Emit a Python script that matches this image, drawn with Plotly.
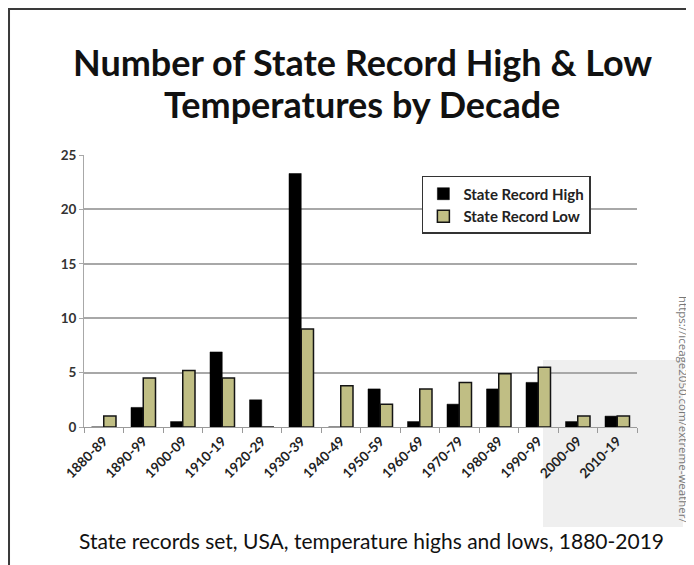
import plotly.graph_objects as go

decades = ['1880-89', '1890-99', '1900-09', '1910-19', '1920-29', '1930-39', '1940-49',
           '1950-59', '1960-69', '1970-79', '1980-89', '1990-99', '2000-09', '2010-19']
record_high = [0, 1.8, 0.5, 6.9, 2.5, 23.3, 0, 3.5, 0.5, 2.1, 3.5, 4.1, 0.5, 1]
record_low = [1, 4.5, 5.2, 4.5, 0, 9, 3.8, 2.1, 3.5, 4.1, 4.9, 5.5, 1, 1]

title_lines = ['Number of State Record High & Low', 'Temperatures by Decade']
caption = 'State records set, USA, temperature highs and lows, 1880-2019'
source = 'https://iceage2050.com/extreme-weather/'

fig = go.Figure()
fig.add_trace(go.Bar(x=decades, y=record_high, name='State Record High',
                     marker=dict(color='#000000', line=dict(color='#000000', width=0.5))))
fig.add_trace(go.Bar(x=decades, y=record_low, name='State Record Low',
                     marker=dict(color='#c0be84', line=dict(color='#141414', width=1.5))))

# grey patch behind the last decades and the page frame
fig.add_shape(type='rect', xref='paper', yref='paper', x0=0.830, x1=1.083, y0=-0.368, y1=0.246,
              fillcolor='#efefef', line=dict(width=0), layer='below')
fig.add_shape(type='rect', xref='paper', yref='paper', x0=-0.1356, x1=1.094, y0=-0.6, y1=1.537,
              fillcolor='rgba(0,0,0,0)', line=dict(color='#3a3a3a', width=2))

# two-line title, placed line by line to keep the tight spacing
for txt, ypos in zip(title_lines, [1.342, 1.1875]):
    fig.add_annotation(text='<b>' + txt + '</b>', xref='paper', yref='paper', x=0.503, y=ypos,
                       xanchor='center', yanchor='middle', showarrow=False,
                       font=dict(family='Lato', size=36, color='#111111'))

fig.add_annotation(text=caption, xref='paper', yref='paper', x=0.52, y=-0.419,
                   xanchor='center', yanchor='middle', showarrow=False,
                   font=dict(family='Lato', size=21, color='#111111'))
fig.add_annotation(text=source, textangle=90, xref='paper', yref='paper', x=1.085, y=0.066,
                   xanchor='center', yanchor='middle', showarrow=False,
                   font=dict(family='Open Sans', size=11.5, color='#777777'))

# page body adds 8px, so the figure is a bit smaller than the window
fig.update_layout(
    width=686, height=557,
    margin=dict(l=76, r=57, t=147, b=138),
    paper_bgcolor='white', plot_bgcolor='white',
    barmode='group', bargap=0.38, bargroupgap=0,
    showlegend=True,
    legend=dict(x=0.611, y=0.923, xanchor='left', yanchor='top', bgcolor='white',
                bordercolor='#333333', borderwidth=1.5,
                font=dict(family='Lato', size=15, color='#222222', weight='bold'),
                traceorder='normal', itemwidth=30),
    xaxis=dict(type='category', tickangle=-45, showgrid=False, showline=True,
               linecolor='#9a9a9a', linewidth=1, ticks='outside', tickson='boundaries',
               ticklen=5, tickcolor='#9a9a9a',
               tickfont=dict(family='Lato', size=13.5, color='#222222', weight='bold')),
    yaxis=dict(range=[0, 25], dtick=5, showgrid=True, gridcolor='#a8a8a8', gridwidth=1.5,
               zeroline=False, showline=True, linecolor='#a8a8a8', linewidth=1,
               ticks='outside', ticklen=4, tickcolor='#a8a8a8',
               tickfont=dict(family='Lato', size=13.5, color='#333333', weight='bold')),
)

fig.write_html('out.html')
